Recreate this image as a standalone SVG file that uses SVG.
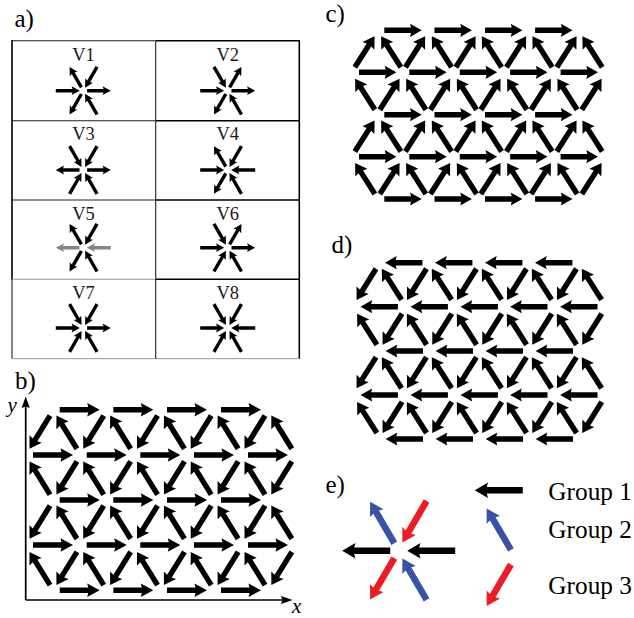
<svg xmlns="http://www.w3.org/2000/svg" width="634" height="618" viewBox="0 0 634 618">
<style>
text{font-family:"Liberation Serif","Times New Roman",serif;fill:#000}
.p{font-size:25px}
.v{font-size:18.5px;text-anchor:middle;fill:#1a1a1a}
.l{font-size:25.3px}
.i{font-size:21px;font-style:italic}
.t{stroke:#000;stroke-width:1.6;fill:none}
.n{stroke:#222;stroke-width:1.1;fill:none}
.q{stroke:#999;stroke-width:1;fill:none}
.gy{fill:#858585}
.bl{fill:#3953a4}
.rd{fill:#ed1c24}
</style>
<defs>
<path id="o" d="M3.8,-1.7H20.3L19.3,-4.4L27.5,0L19.3,4.4L20.3,1.7H3.8Z"/>
<path id="n" d="M27.5,-1.7H10.7L11.7,-4.4L3.5,0L11.7,4.4L10.7,1.7H27.5Z"/>
<use id="Eo" href="#o"/><use id="En" href="#n"/>
<use id="Wo" href="#o" transform="rotate(180)"/><use id="Wn" href="#n" transform="rotate(180)"/>
<use id="NWo" href="#o" transform="rotate(-120)"/><use id="NWn" href="#n" transform="rotate(-120)"/>
<use id="NEo" href="#o" transform="rotate(-60)"/><use id="NEn" href="#n" transform="rotate(-60)"/>
<use id="SWo" href="#o" transform="rotate(120)"/><use id="SWn" href="#n" transform="rotate(120)"/>
<use id="SEn" href="#n" transform="rotate(60)"/>
<path id="bR" d="M-20,-2.7H8.5L7.5,-6.8L20,0L7.5,6.8L8.5,2.7H-20Z"/>
<path id="bO" d="M-19.5,-2.7H9L8,-7.2L19.5,0L8,7.2L9,2.7H-19.5Z"/>
<use id="bDL" href="#bO" transform="rotate(121.7)"/>
<use id="bUL" href="#bO" transform="rotate(-121.7)"/>
<path id="cR" d="M-18.7,-2.7H8L7,-6.6L18.7,0L7,6.6L8,2.7H-18.7Z"/>
<use id="cL" href="#cR" transform="rotate(180)"/>
<path id="cO" d="M-18.4,-2.7H7.9L6.9,-7.1L18.4,0L6.9,7.1L7.9,2.7H-18.4Z"/>
<use id="cUR" href="#cO" transform="rotate(-57.5)"/>
<use id="cUL" href="#cO" transform="rotate(-122.5)"/>
<use id="cDL" href="#cO" transform="rotate(122)"/>
<path id="eA" d="M-24,-3.3H12L10.8,-7.8L24,0L10.8,7.8L12,3.3H-24Z"/>
<use id="eL" href="#eA" transform="rotate(180)"/>
<use id="eUL" href="#eA" transform="rotate(-120.3)"/>
<use id="eDL" href="#eA" transform="rotate(120.3)"/>
</defs>

<g id="panel-a">
<text class="p" x="14.5" y="27">a)</text>
<g id="table">
<path class="n" d="M12,40.7H155.7M12,120.7H155.7M12,200H155.7M12,279.3V358.7"/>
<path class="t" d="M155.7,40.7H299.3V358.7M155.7,120.7H299M155.7,200H299M155.7,279.3H299M12,40V279.8"/>
<path class="q" d="M12,279.3H155.7M12,358.7H299.3"/>
<path class="n" d="M155.7,41V358.7"/>
</g>
<g id="V1"><text class="v" x="83.5" y="61">V1</text><g transform="translate(83.3,90.7)"><use href="#Eo"/><use href="#Wn"/><use href="#NWo"/><use href="#NEn"/><use href="#SWo"/><use href="#SEn"/></g></g>
<g id="V2"><text class="v" x="227.7" y="61">V2</text><g transform="translate(227.7,90.7)"><use href="#Eo"/><use href="#Wn"/><use href="#NWn"/><use href="#NEo"/><use href="#SWo"/><use href="#SEn"/></g></g>
<g id="V3"><text class="v" x="83.5" y="140.3">V3</text><g transform="translate(83.3,170)"><use href="#Eo"/><use href="#Wo"/><use href="#NWn"/><use href="#NEn"/><use href="#SWn"/><use href="#SEn"/></g></g>
<g id="V4"><text class="v" x="227.7" y="140.3">V4</text><g transform="translate(227.7,170)"><use href="#En"/><use href="#Wn"/><use href="#NWo"/><use href="#NEn"/><use href="#SWo"/><use href="#SEn"/></g></g>
<g id="V5"><text class="v" x="83.5" y="220">V5</text><g transform="translate(83.3,247.7)"><use class="gy" href="#En"/><use class="gy" href="#Wo"/><use href="#NWo"/><use href="#NEn"/><use href="#SWo"/><use href="#SEn"/></g></g>
<g id="V6"><text class="v" x="227.7" y="220">V6</text><g transform="translate(227.7,247.7)"><use href="#Eo"/><use href="#Wn"/><use href="#NWn"/><use href="#NEo"/><use href="#SWn"/><use href="#SEn"/></g></g>
<g id="V7"><text class="v" x="83.5" y="298.7">V7</text><g transform="translate(83.3,328)"><use href="#Eo"/><use href="#Wn"/><use href="#NWn"/><use href="#NEn"/><use href="#SWn"/><use href="#SEn"/></g></g>
<g id="V8"><text class="v" x="227.7" y="298.7">V8</text><g transform="translate(227.7,328)"><use href="#En"/><use href="#Wn"/><use href="#NWn"/><use href="#NEn"/><use href="#SWn"/><use href="#SEn"/></g></g>
</g>

<g id="panel-b">
<text class="p" x="15" y="389">b)</text>
<g id="axes">
<path d="M25.7,600V405M25.7,600H285" fill="none" stroke="#000" stroke-width="1.7"/>
<path d="M25.7,396.5L29.8,408L25.7,406.5L21.6,408Z"/>
<path d="M292.7,600L281,596L282.5,600L281,604Z"/>
<text class="i" x="7.5" y="412">y</text>
<text class="i" x="292" y="613">x</text>
</g>
<g id="b-horizontal">
<use href="#bR" x="79.7" y="409.7"/><use href="#bR" x="133.3" y="409.7"/><use href="#bR" x="187" y="409.7"/><use href="#bR" x="241" y="409.7"/>
<use href="#bR" x="53" y="455"/><use href="#bR" x="106.7" y="455"/><use href="#bR" x="160.3" y="455"/><use href="#bR" x="214" y="455"/><use href="#bR" x="268" y="455"/>
<use href="#bR" x="79.7" y="500"/><use href="#bR" x="133.3" y="500"/><use href="#bR" x="187" y="500"/><use href="#bR" x="241" y="500"/>
<use href="#bR" x="53" y="545"/><use href="#bR" x="106.7" y="545"/><use href="#bR" x="160.3" y="545"/><use href="#bR" x="214" y="545"/><use href="#bR" x="268" y="545"/>
<use href="#bR" x="79.7" y="590.3"/><use href="#bR" x="133.3" y="590.3"/><use href="#bR" x="187" y="590.3"/><use href="#bR" x="241" y="590.3"/>
</g>
<g id="b-oblique">
<use href="#bDL" x="39.8" y="432.2"/><use href="#bUL" x="66.7" y="432.2"/><use href="#bDL" x="93.5" y="432.2"/><use href="#bUL" x="120.4" y="432.2"/><use href="#bDL" x="147.3" y="432.2"/><use href="#bUL" x="174.2" y="432.2"/><use href="#bDL" x="201" y="432.2"/><use href="#bUL" x="227.9" y="432.2"/><use href="#bDL" x="254.8" y="432.2"/><use href="#bUL" x="281.6" y="432.2"/>
<use href="#bUL" x="39.8" y="478"/><use href="#bDL" x="66.7" y="478"/><use href="#bUL" x="93.5" y="478"/><use href="#bDL" x="120.4" y="478"/><use href="#bUL" x="147.3" y="478"/><use href="#bDL" x="174.2" y="478"/><use href="#bUL" x="201" y="478"/><use href="#bDL" x="227.9" y="478"/><use href="#bUL" x="254.8" y="478"/><use href="#bDL" x="281.6" y="478"/>
<use href="#bDL" x="39.8" y="522.2"/><use href="#bUL" x="66.7" y="522.2"/><use href="#bDL" x="93.5" y="522.2"/><use href="#bUL" x="120.4" y="522.2"/><use href="#bDL" x="147.3" y="522.2"/><use href="#bUL" x="174.2" y="522.2"/><use href="#bDL" x="201" y="522.2"/><use href="#bUL" x="227.9" y="522.2"/><use href="#bDL" x="254.8" y="522.2"/><use href="#bUL" x="281.6" y="522.2"/>
<use href="#bUL" x="39.8" y="568.5"/><use href="#bDL" x="66.7" y="568.5"/><use href="#bUL" x="93.5" y="568.5"/><use href="#bDL" x="120.4" y="568.5"/><use href="#bUL" x="147.3" y="568.5"/><use href="#bDL" x="174.2" y="568.5"/><use href="#bUL" x="201" y="568.5"/><use href="#bDL" x="227.9" y="568.5"/><use href="#bUL" x="254.8" y="568.5"/><use href="#bDL" x="281.6" y="568.5"/>
</g>
</g>

<g id="panel-c">
<text class="p" x="325.5" y="22">c)</text>
<g id="c-horizontal">
<use href="#cR" x="403" y="30.3"/><use href="#cR" x="453.2" y="30.3"/><use href="#cR" x="503.7" y="30.3"/><use href="#cR" x="553.8" y="30.3"/>
<use href="#cR" x="377.7" y="72.3"/><use href="#cR" x="428" y="72.3"/><use href="#cR" x="478.5" y="72.3"/><use href="#cR" x="528.8" y="72.3"/><use href="#cR" x="579.3" y="72.3"/>
<use href="#cR" x="403" y="114.7"/><use href="#cR" x="453.2" y="114.7"/><use href="#cR" x="503.7" y="114.7"/><use href="#cR" x="553.8" y="114.7"/>
<use href="#cR" x="377.7" y="156.7"/><use href="#cR" x="428" y="156.7"/><use href="#cR" x="478.5" y="156.7"/><use href="#cR" x="528.8" y="156.7"/><use href="#cR" x="579.3" y="156.7"/>
<use href="#cR" x="403" y="199"/><use href="#cR" x="453.2" y="199"/><use href="#cR" x="503.7" y="199"/><use href="#cR" x="553.8" y="199"/>
</g>
<g id="c-oblique">
<use href="#cUR" x="364.7" y="51.7"/><use href="#cUL" x="391" y="51.7"/><use href="#cUR" x="415.3" y="51.7"/><use href="#cUL" x="441.7" y="51.7"/><use href="#cUR" x="465.7" y="51.7"/><use href="#cUL" x="491.7" y="51.7"/><use href="#cUR" x="516.3" y="51.7"/><use href="#cUL" x="542.3" y="51.7"/><use href="#cUR" x="566.7" y="51.7"/><use href="#cUL" x="592.3" y="51.7"/>
<use href="#cUL" x="365" y="94.2"/><use href="#cUR" x="389.7" y="94.2"/><use href="#cUL" x="416" y="94.2"/><use href="#cUR" x="440.3" y="94.2"/><use href="#cUL" x="466.7" y="94.2"/><use href="#cUR" x="490.7" y="94.2"/><use href="#cUL" x="517" y="94.2"/><use href="#cUR" x="541" y="94.2"/><use href="#cUL" x="567.3" y="94.2"/><use href="#cUR" x="591.7" y="94.2"/>
<use href="#cUR" x="364.7" y="136"/><use href="#cUL" x="391" y="136"/><use href="#cUR" x="415.3" y="136"/><use href="#cUL" x="441.7" y="136"/><use href="#cUR" x="465.7" y="136"/><use href="#cUL" x="491.7" y="136"/><use href="#cUR" x="516.3" y="136"/><use href="#cUL" x="542.3" y="136"/><use href="#cUR" x="566.7" y="136"/><use href="#cUL" x="592.3" y="136"/>
<use href="#cUL" x="365" y="178.5"/><use href="#cUR" x="389.7" y="178.5"/><use href="#cUL" x="416" y="178.5"/><use href="#cUR" x="440.3" y="178.5"/><use href="#cUL" x="466.7" y="178.5"/><use href="#cUR" x="490.7" y="178.5"/><use href="#cUL" x="517" y="178.5"/><use href="#cUR" x="541" y="178.5"/><use href="#cUL" x="567.3" y="178.5"/><use href="#cUR" x="591.7" y="178.5"/>
</g>
</g>

<g id="panel-d">
<text class="p" x="331.5" y="252.7">d)</text>
<g id="d-horizontal">
<use href="#cL" x="403.7" y="262.7"/><use href="#cL" x="453.7" y="262.7"/><use href="#cL" x="503.7" y="262.7"/><use href="#cL" x="553.7" y="262.7"/>
<use href="#cL" x="379.2" y="306.7"/><use href="#cL" x="429.2" y="306.7"/><use href="#cL" x="479.2" y="306.7"/><use href="#cL" x="528.8" y="306.7"/><use href="#cL" x="578.8" y="306.7"/>
<use href="#cL" x="404.3" y="351"/><use href="#cL" x="454.3" y="351"/><use href="#cL" x="504.3" y="351"/><use href="#cL" x="554.3" y="351"/>
<use href="#cL" x="379.2" y="395"/><use href="#cL" x="429.2" y="395"/><use href="#cL" x="479.2" y="395"/><use href="#cL" x="528.8" y="395"/><use href="#cL" x="578.8" y="395"/>
<use href="#cL" x="404.3" y="439"/><use href="#cL" x="454.3" y="439"/><use href="#cL" x="504.3" y="439"/><use href="#cL" x="554.3" y="439"/>
</g>
<g id="d-oblique">
<use href="#cDL" x="366.3" y="284.3"/><use href="#cUL" x="391.7" y="284.3"/><use href="#cDL" x="416.7" y="284.3"/><use href="#cUL" x="441.7" y="284.3"/><use href="#cDL" x="466.7" y="284.3"/><use href="#cUL" x="491.7" y="284.3"/><use href="#cDL" x="516.7" y="284.3"/><use href="#cUL" x="541.7" y="284.3"/><use href="#cDL" x="566.7" y="284.3"/><use href="#cUL" x="591.7" y="284.3"/>
<use href="#cUL" x="367" y="329.2"/><use href="#cDL" x="392.3" y="329.2"/><use href="#cUL" x="416.7" y="329.2"/><use href="#cDL" x="442" y="329.2"/><use href="#cUL" x="466.7" y="329.2"/><use href="#cDL" x="492" y="329.2"/><use href="#cUL" x="516.7" y="329.2"/><use href="#cDL" x="542" y="329.2"/><use href="#cUL" x="566.7" y="329.2"/><use href="#cDL" x="592" y="329.2"/>
<use href="#cDL" x="366.3" y="372.7"/><use href="#cUL" x="391.7" y="372.7"/><use href="#cDL" x="416.7" y="372.7"/><use href="#cUL" x="441.7" y="372.7"/><use href="#cDL" x="466.7" y="372.7"/><use href="#cUL" x="491.7" y="372.7"/><use href="#cDL" x="516.7" y="372.7"/><use href="#cUL" x="541.7" y="372.7"/><use href="#cDL" x="566.7" y="372.7"/><use href="#cUL" x="591.7" y="372.7"/>
<use href="#cUL" x="367" y="417.5"/><use href="#cDL" x="392.3" y="417.5"/><use href="#cUL" x="416.7" y="417.5"/><use href="#cDL" x="442" y="417.5"/><use href="#cUL" x="466.7" y="417.5"/><use href="#cDL" x="492" y="417.5"/><use href="#cUL" x="516.7" y="417.5"/><use href="#cDL" x="542" y="417.5"/><use href="#cUL" x="566.7" y="417.5"/><use href="#cDL" x="592" y="417.5"/>
</g>
</g>

<g id="panel-e">
<text class="p" x="325.5" y="493">e)</text>
<g id="e-vertex">
<use href="#eL" x="366.2" y="550.7"/><use href="#eL" x="431.2" y="550.7"/>
<use class="bl" href="#eUL" x="382.2" y="522.5"/><use class="bl" href="#eUL" x="414.5" y="579.2"/>
<use class="rd" href="#eDL" x="414.5" y="521.7"/><use class="rd" href="#eDL" x="382.2" y="578.8"/>
</g>
<g id="group-1"><use href="#eL" x="498.8" y="490.3"/><text class="l" x="548.3" y="499.7">Group 1</text></g>
<g id="group-2"><use class="bl" href="#eUL" x="498.8" y="529.2"/><text class="l" x="548.3" y="537.7">Group 2</text></g>
<g id="group-3"><use class="rd" href="#eDL" x="498.8" y="585.2"/><text class="l" x="548.3" y="594">Group 3</text></g>
</g>
</svg>
